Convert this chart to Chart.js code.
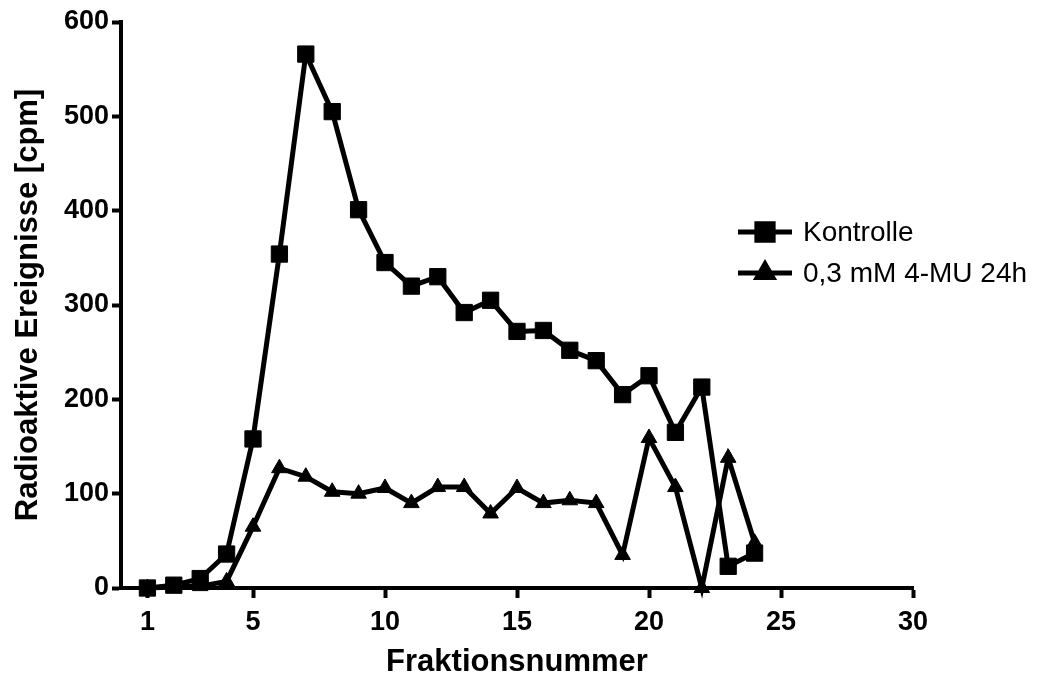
<!DOCTYPE html>
<html>
<head>
<meta charset="utf-8">
<script src="https://cdn.jsdelivr.net/npm/chart.js@4/dist/chart.umd.min.js"></script>
<style>
  html, body { margin: 0; padding: 0; background: #fff; }
  canvas { display: block; }
</style>
</head>
<body>
<canvas id="fraktionen" width="1054" height="677"></canvas>
<script>
// Fraktionen 1-24, Zählrate pro Fraktion
const fractions = [1, 2, 3, 4, 5, 6, 7, 8, 9, 10, 11, 12, 13, 14, 15, 16, 17, 18, 19, 20, 21, 22, 23, 24]
const kontrolle = [0, 3, 10, 36, 158, 354, 566, 505, 401, 345, 320, 330, 292, 305, 272, 273, 252, 241, 205, 225, 165, 213, 23, 37]
const mu24h = [0, 1, 2, 7, 65, 127, 118, 102, 100, 106, 90, 107, 107, 79, 106, 90, 93, 90, 35, 159, 107, 0, 138, 48]
const seriesLabels = ['Kontrolle', '0,3 mM 4-MU 24h']
const xTicks = [1, 5, 10, 15, 20, 25, 30]

const font = "'Liberation Sans', Arial, sans-serif"

function toPoints(values){
    return fractions.map((f, i) => ({ x: f, y: values[i] }))
}

// Legende rechts: Linie mit Symbol, daneben der Text
const sideLegend = {
    id: 'sideLegend',
    afterDraw(chart){
        const ctx = chart.ctx
        const rows = [232, 273]
        chart.data.datasets.forEach((ds, i) => {
            const y = rows[i]
            ctx.save()
            ctx.strokeStyle = '#000'
            ctx.lineWidth = 5
            ctx.beginPath()
            ctx.moveTo(738, y)
            ctx.lineTo(792, y)
            ctx.stroke()
            ctx.fillStyle = '#000'
            Chart.helpers.drawPoint(ctx, {
                pointStyle: ds.pointStyle,
                radius: ds.pointRadius,
                borderWidth: 1
            }, 765, y)
            ctx.fillStyle = '#000'
            ctx.font = '28px ' + font
            ctx.textBaseline = 'middle'
            ctx.fillText(ds.label, 803, y + 1)
            ctx.restore()
        })
    }
}

const ctx = document.getElementById('fraktionen').getContext('2d')
const chart = new Chart(ctx, {
    type: 'line',
    data: {
        datasets: [{
            label: seriesLabels[0],
            data: toPoints(kontrolle),
            borderColor: '#000',
            backgroundColor: '#000',
            borderWidth: 5,
            pointStyle: 'rect',
            pointRadius: 11.5,
            pointBorderWidth: 1,
            clip: false
        }, {
            label: seriesLabels[1],
            data: toPoints(mu24h),
            borderColor: '#000',
            backgroundColor: '#000',
            borderWidth: 5,
            pointStyle: 'triangle',
            pointRadius: 9,
            pointBorderWidth: 1,
            clip: false
        }]
    },
    options: {
        responsive: false,
        animation: false,
        layout: { padding: { top: 22, right: 141, left: 0, bottom: 0 } },
        plugins: {
            legend: { display: false },
            tooltip: { enabled: false }
        },
        scales: {
            x: {
                type: 'linear',
                min: 0,
                max: 30,
                afterBuildTicks: scale => { scale.ticks = xTicks.map(v => ({ value: v })) },
                afterFit: scale => { scale.height = 89 },
                border: { display: true, color: '#000', width: 4 },
                grid: { drawOnChartArea: false, drawTicks: true, tickLength: 10, tickWidth: 4, tickColor: '#000' },
                ticks: {
                    color: '#000',
                    padding: 11,
                    maxRotation: 0,
                    autoSkip: false,
                    font: { family: font, size: 27, weight: 'bold', lineHeight: 1 }
                },
                title: {
                    display: true,
                    text: 'Fraktionsnummer',
                    color: '#000',
                    padding: 0,
                    font: { family: font, size: 31, weight: 'bold', lineHeight: 0.95 }
                }
            },
            y: {
                min: 0,
                max: 600,
                afterFit: scale => { scale.width = 121 },
                border: { display: true, color: '#000', width: 4 },
                grid: { drawOnChartArea: false, drawTicks: true, tickLength: 9, tickWidth: 4, tickColor: '#000' },
                ticks: {
                    stepSize: 100,
                    color: '#000',
                    padding: 3,
                    font: { family: font, size: 27, weight: 'bold' }
                },
                title: {
                    display: true,
                    text: 'Radioaktive Ereignisse [cpm]',
                    color: '#000',
                    padding: { top: 10, bottom: 0 },
                    font: { family: font, size: 31, weight: 'bold', lineHeight: 1.2 }
                }
            }
        }
    },
    plugins: [sideLegend]
})
</script>
</body>
</html>
